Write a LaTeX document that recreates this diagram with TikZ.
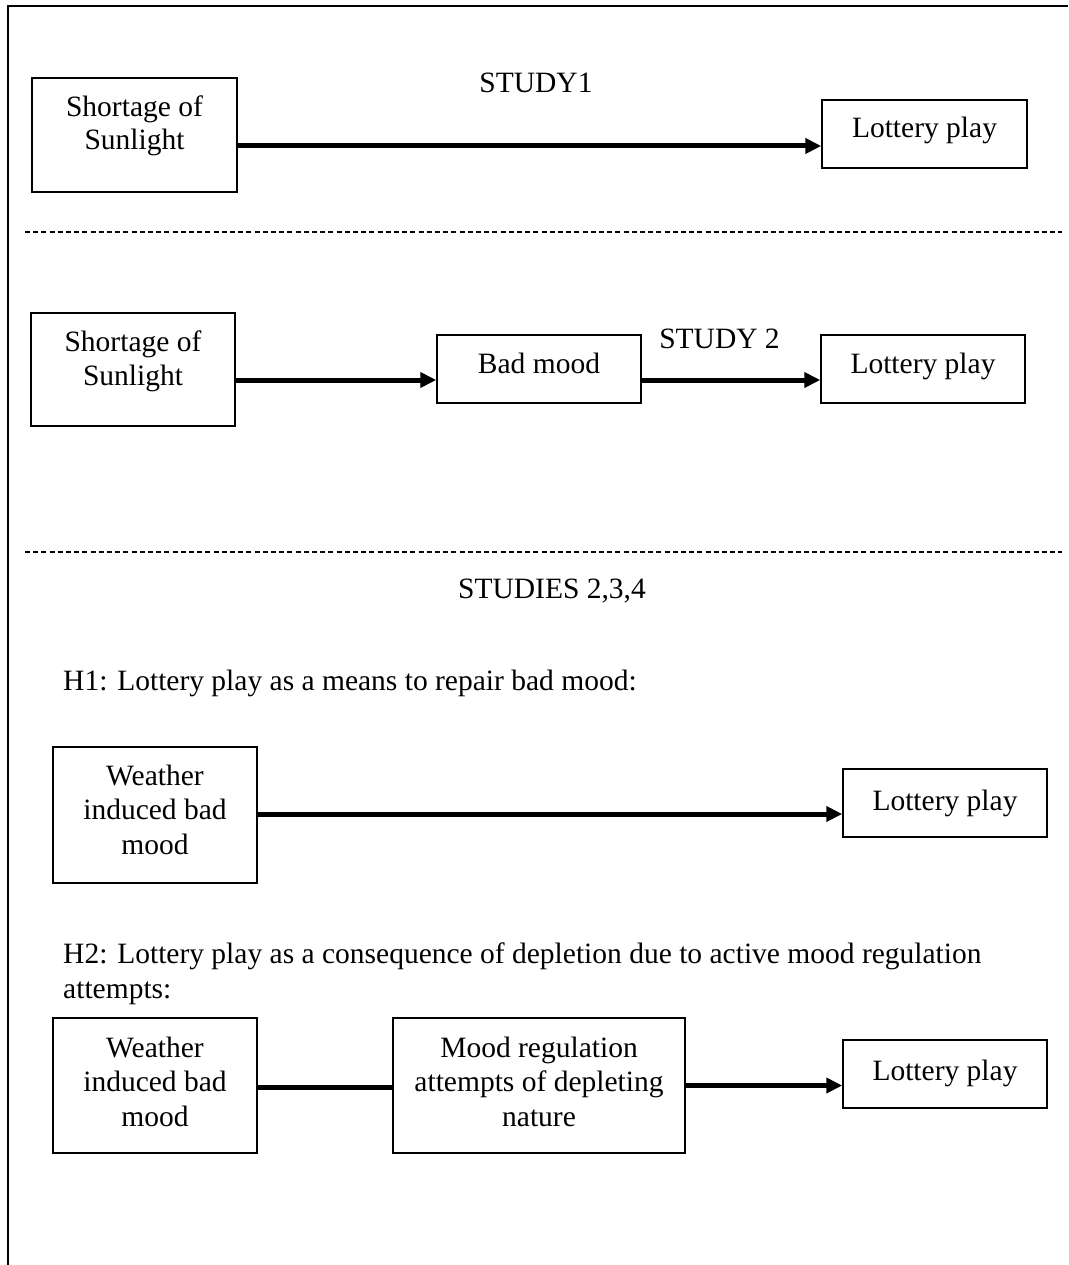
\documentclass[tikz,border=0pt]{standalone}
\usepackage{fontspec}
\setmainfont{Liberation Serif}
\usetikzlibrary{arrows.meta}
\begin{document}
\begin{tikzpicture}[x=1pt,y=-1pt,
  box/.style={draw, line width=1.5pt, inner sep=0pt},
  txt/.style={font=\fontsize{29.5}{34.5}\selectfont, inner sep=0pt, anchor=base},
  ltxt/.style={font=\fontsize{29.5}{34.5}\selectfont, inner sep=0pt, anchor=base west},
  arr/.style={line width=5pt, -{Triangle[length=16pt,width=15pt]}},
  conn/.style={line width=5pt},
  sepline/.style={line width=2pt, dash pattern=on 5pt off 3.2pt},
  frame/.style={line width=2.5pt}]
\useasboundingbox (0,0) rectangle (1068,1265);
\fill[white] (0,0) rectangle (1068,1265);
% frame
\coordinate (fa) at (8,1265);
\coordinate (fb) at (8,6);
\coordinate (fc) at (1068,6);
\draw[frame] (fa) -- (fb) -- (fc);

% ---------- STUDY 1 ----------
\node[box, minimum width=205pt, minimum height=114pt] (b1) at (134.5,135) {};
\node[txt] (b1t1) at (134.5,117) {Shortage of};
\node[txt] (b1t2) at (134.5,150) {Sunlight};
\node[box, minimum width=205pt, minimum height=68pt] (l1) at (924.5,134) {};
\node[txt] (l1t) at (924.5,138) {Lottery play};
\node[txt] (s1) at (536,93) {STUDY1};
\coordinate (a1) at ([yshift=-11pt]b1.east);
\draw[arr] (a1) -- (a1 -| l1.west);

% separator 1
\coordinate (d1a) at (25,232);
\coordinate (d1b) at (1062,232);
\draw[sepline] (d1a) -- (d1b);

% ---------- STUDY 2 ----------
\node[box, minimum width=204pt, minimum height=113pt] (b2) at (133,369.5) {};
\node[txt] (b2t1) at (133,351) {Shortage of};
\node[txt] (b2t2) at (133,385) {Sunlight};
\node[box, minimum width=204pt, minimum height=68pt] (m2) at (539,369) {};
\node[txt] (m2t) at (539,373) {Bad mood};
\node[box, minimum width=204pt, minimum height=68pt] (l2) at (923,369) {};
\node[txt] (l2t) at (923,373) {Lottery play};
\node[txt] (s2) at (719.5,348) {STUDY 2};
\coordinate (a2) at ([yshift=-10.5pt]b2.east);
\draw[arr] (a2) -- (a2 -| m2.west);
\coordinate (a3) at ([yshift=-11pt]m2.east);
\draw[arr] (a3) -- (a3 -| l2.west);

% separator 2
\coordinate (d2a) at (25,552);
\coordinate (d2b) at (1062,552);
\draw[sepline] (d2a) -- (d2b);

% ---------- STUDIES 2,3,4 ----------
\node[txt] (s3) at (552,598) {STUDIES 2,3,4};

% H1
\node[ltxt] (h1) at (63,690) {H1: Lottery play as a means to repair bad mood:};
\node[box, minimum width=204pt, minimum height=136pt] (w1) at (155,815) {};
\node[txt] (w1t1) at (155,785) {Weather};
\node[txt] (w1t2) at (155,819.5) {induced bad};
\node[txt] (w1t3) at (155,854) {mood};
\node[box, minimum width=204pt, minimum height=68pt] (l3) at (945,803) {};
\node[txt] (l3t) at (945,810) {Lottery play};
\coordinate (a4) at ([yshift=1pt]w1.east);
\draw[arr] (a4) -- (a4 -| l3.west);

% H2
\node[ltxt] (h2a) at (63,963) {H2: Lottery play as a consequence of depletion due to active mood regulation};
\node[ltxt] (h2b) at (63,998) {attempts:};
\node[box, minimum width=204pt, minimum height=135pt] (w2) at (155,1085.5) {};
\node[txt] (w2t1) at (155,1057) {Weather};
\node[txt] (w2t2) at (155,1091.5) {induced bad};
\node[txt] (w2t3) at (155,1126) {mood};
\node[box, minimum width=292pt, minimum height=135pt] (mr) at (539,1085.5) {};
\node[txt] (mrt1) at (539,1057) {Mood regulation};
\node[txt] (mrt2) at (539,1091.5) {attempts of depleting};
\node[txt] (mrt3) at (539,1126) {nature};
\node[box, minimum width=204pt, minimum height=68pt] (l4) at (945,1074) {};
\node[txt] (l4t) at (945,1080) {Lottery play};
\coordinate (a5) at ([yshift=-2pt]w2.east);
\draw[conn] (a5) -- (a5 -| mr.west);
\coordinate (a6) at ([yshift=0pt]mr.east);
\draw[arr] (a6) -- (a6 -| l4.west);
\end{tikzpicture}
\end{document}
